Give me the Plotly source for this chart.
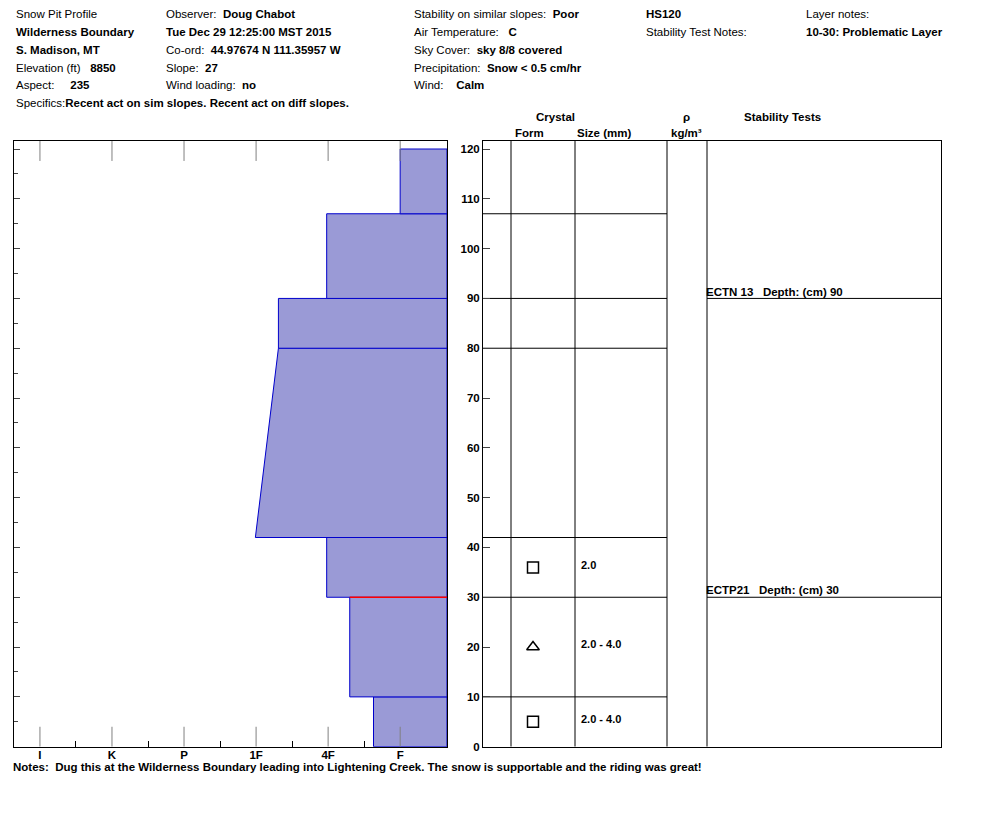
import plotly.graph_objects as go

W, H = 994, 840
OX, OY = 8, 7  # page body margin

# hardness profile (bottom, top, hardness at bottom, hardness at top), I=1 .. F=6
layer_bottom = [0, 10, 30, 42, 80, 90, 107]
layer_top = [10, 30, 42, 80, 90, 107, 120]
hard_bottom = [5.63, 5.30, 4.98, 3.99, 4.31, 4.98, 6.0]
hard_top = [5.63, 5.30, 4.98, 4.31, 4.31, 4.98, 6.0]
hard_labels = ["I", "K", "P", "1F", "4F", "F"]
problem_depth = 30
problem_hard = 5.30

# table rows
row_lines = [107, 90, 80, 42, 30, 10]
crystal_depth = [36, 20, 5]
crystal_form = ["square-open", "triangle-up-open", "square-open"]
crystal_size = ["2.0", "2.0 - 4.0", "2.0 - 4.0"]
test_depth = [90, 30]
test_text = ["ECTN 13   Depth: (cm) 90", "ECTP21   Depth: (cm) 30"]

X_MAX = 6.65
Y_MAX = 121.6
FONT = "Liberation Sans, Arial"


def px(x):
    return (x - OX) / W


def py(y):
    return 1 - (y - OY) / H


fig = go.Figure()

# layers
for b, t, hb, ht in zip(layer_bottom, layer_top, hard_bottom, hard_top):
    fig.add_trace(go.Scatter(
        x=[hb, ht, X_MAX, X_MAX, hb], y=[b, t, t, b, b], fill="toself",
        fillcolor="#9a9ad6", line=dict(color="#0000cc", width=1),
        mode="lines", showlegend=False, hoverinfo="skip", xaxis="x", yaxis="y"))
fig.add_trace(go.Scatter(x=[problem_hard, X_MAX], y=[problem_depth, problem_depth],
                         mode="lines", line=dict(color="red", width=1.5),
                         showlegend=False, xaxis="x", yaxis="y"))
# gray hardness guides
for i in range(1, 7):
    for y0, y1 in [(0, 4), (Y_MAX - 4, Y_MAX)]:
        fig.add_trace(go.Scatter(x=[i, i], y=[y0, y1], mode="lines",
                                 line=dict(color="gray", width=1),
                                 showlegend=False, xaxis="x", yaxis="y"))

# table lines
C0, C1, C2, C3, C4, C5 = 483, 511, 575, 667, 707, 941
for d in row_lines:
    fig.add_trace(go.Scatter(x=[C0, C3], y=[d, d], mode="lines",
                             line=dict(color="black", width=1),
                             showlegend=False, xaxis="x2", yaxis="y2"))
for d in test_depth:
    fig.add_trace(go.Scatter(x=[C4, C5], y=[d, d], mode="lines",
                             line=dict(color="black", width=1),
                             showlegend=False, xaxis="x2", yaxis="y2"))
for c in [C1, C2, C3, C4]:
    fig.add_trace(go.Scatter(x=[c, c], y=[0, Y_MAX], mode="lines",
                             line=dict(color="black", width=1),
                             showlegend=False, xaxis="x2", yaxis="y2"))
fig.add_trace(go.Scatter(x=[533] * 3, y=crystal_depth, mode="markers",
                         marker=dict(symbol=crystal_form, size=11, color="black",
                                     line=dict(width=1.5)),
                         showlegend=False, xaxis="x2", yaxis="y2"))
fig.add_trace(go.Scatter(x=[581] * 3, y=[d + 0.3 for d in crystal_depth], mode="text",
                         text=crystal_size, textposition="middle right",
                         textfont=dict(size=11, family=FONT, color="black", weight="bold"),
                         showlegend=False, xaxis="x2", yaxis="y2"))
fig.add_trace(go.Scatter(x=[C4 - 1] * 2, y=test_depth, mode="text",
                         text=test_text, textposition="top right",
                         textfont=dict(size=11.5, family=FONT, color="black", weight="bold"),
                         showlegend=False, xaxis="x2", yaxis="y2"))

ydom = [py(751), py(141)]
fig.update_layout(
    width=W, height=H, margin=dict(l=0, r=0, t=0, b=0),
    plot_bgcolor="white", paper_bgcolor="white",
    font=dict(family=FONT, size=12, color="black"),
    xaxis=dict(domain=[px(14), px(447)], range=[0.64, X_MAX], tickvals=list(range(1, 7)),
               ticktext=["<b>%s</b>" % s for s in hard_labels], ticks="", showgrid=False,
               zeroline=False, showline=True, mirror=True, linecolor="black",
               minor=dict(tickvals=[1.5, 2.5, 3.5, 4.5, 5.5], ticks="inside",
                          ticklen=6, tickcolor="black"),
               ticklabelstandoff=-2, tickfont=dict(size=11.5), anchor="y"),
    yaxis=dict(domain=ydom, range=[0, Y_MAX], showticklabels=False, showgrid=False,
               zeroline=False, showline=True, mirror=True, linecolor="black",
               tickvals=list(range(0, 121, 10)), ticks="inside", ticklen=6,
               minor=dict(tickvals=list(range(5, 121, 10)), ticks="inside", ticklen=4),
               anchor="x"),
    xaxis2=dict(domain=[px(C0), px(C5)], range=[C0, C5], showticklabels=False,
                showgrid=False, zeroline=False, showline=True, mirror=True,
                linecolor="black", anchor="y2"),
    yaxis2=dict(domain=ydom, range=[0, Y_MAX], tickvals=list(range(0, 121, 10)),
                ticktext=["<b>%d</b>" % v for v in range(0, 121, 10)],
                ticks="inside", ticklen=7, showgrid=False, zeroline=False,
                showline=True, mirror=True, linecolor="black", anchor="x2",
                tickfont=dict(size=11.5)),
)

header = [
    (14, 13, "Snow Pit Profile"),
    (14, 31, "<b>Wilderness Boundary</b>"),
    (14, 49, "<b>S. Madison, MT</b>"),
    (14, 67, "Elevation (ft)   <b>8850</b>"),
    (14, 85, "Aspect:     <b>235</b>"),
    (14, 103, "Specifics:<b>Recent act on sim slopes. Recent act on diff slopes.</b>"),
    (164, 13, "Observer:  <b>Doug Chabot</b>"),
    (164, 31, "<b>Tue Dec 29 12:25:00 MST 2015</b>"),
    (164, 49, "Co-ord:  <b>44.97674 N 111.35957 W</b>"),
    (164, 67, "Slope:  <b>27</b>"),
    (164, 85, "Wind loading:  <b>no</b>"),
    (412, 13, "Stability on similar slopes:  <b>Poor</b>"),
    (412, 31, "Air Temperature:   <b>C</b>"),
    (412, 49, "Sky Cover:  <b>sky 8/8 covered</b>"),
    (412, 67, "Precipitation:  <b>Snow &lt; 0.5 cm/hr</b>"),
    (412, 85, "Wind:    <b>Calm</b>"),
    (644, 13, "<b>HS120</b>"),
    (644, 31, "Stability Test Notes:"),
    (804, 13, "Layer notes:"),
    (804, 31, "<b>10-30: Problematic Layer</b>"),
    (11, 771, "<b>Notes:  Dug this at the Wilderness Boundary leading into Lightening Creek. "
              "The snow is supportable and the riding was great!</b>"),
]
for x, y, t in header:
    fig.add_annotation(x=px(x), y=py(y), xref="paper", yref="paper", text=t,
                       showarrow=False, xanchor="left", yanchor="middle",
                       font=dict(size=11.5))

col_heads = [(555, 117, "Crystal"), (529, 133, "Form"), (604, 133, "Size (mm)"),
             (686, 117, "ρ"), (686, 133, "kg/m³"), (782, 117, "Stability Tests")]
for x, y, t in col_heads:
    fig.add_annotation(x=px(x), y=py(y), xref="paper", yref="paper", text="<b>%s</b>" % t,
                       showarrow=False, xanchor="center", yanchor="middle",
                       font=dict(size=11.5))

fig.write_html("out.html")
